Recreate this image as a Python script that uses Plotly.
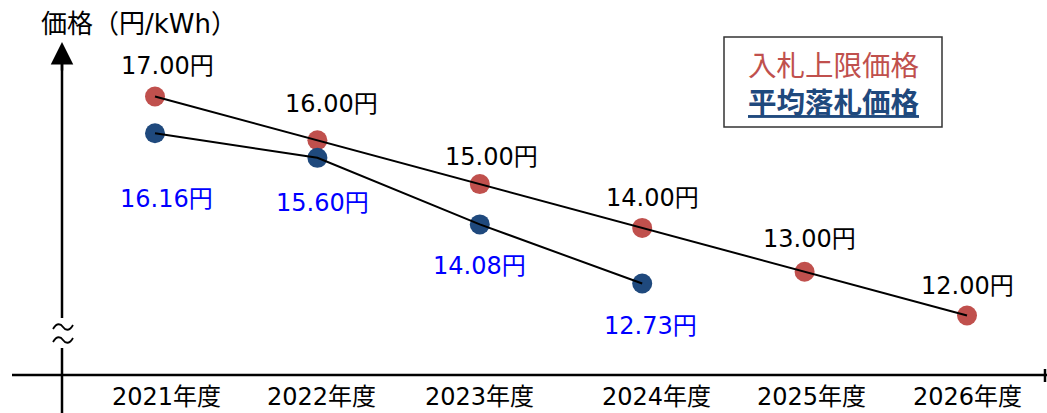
import plotly.graph_objects as go

# Fiscal years and price series (円/kWh)
years = ["2021年度", "2022年度", "2023年度", "2024年度", "2025年度", "2026年度"]
cap_price = [17.00, 16.00, 15.00, 14.00, 13.00, 12.00]       # 入札上限価格
avg_price = [16.16, 15.60, 14.08, 12.73]                     # 平均落札価格
axis_title = "価格（円/kWh）"
legend_cap = "入札上限価格"
legend_avg = "平均落札価格"

W, H = 1047, 413
RED = "#C0504D"
NAVY = "#1F497D"
LABEL_BLUE = "#0000FF"
FONT = "DejaVu Sans, Noto Sans CJK JP, sans-serif"
CJK = "Noto Sans CJK JP, sans-serif"

# label offsets in pixels (x, y) relative to each marker
cap_off = [(12, 31), (14, 36), (12, 27), (10, 30), (5, 33), (0, 30)]
avg_off = [(11, -66), (5, -45), (0, -42), (8, -42)]
# horizontal nudges of the year labels
year_shift = [11, 4, 0, 14, 7, 0]


def fx(p):
    return p / W


def fy(p):
    return 1 - p / H


fig = go.Figure()

# markers first, connecting lines drawn on top of them
fig.add_trace(go.Scatter(x=years, y=cap_price, mode="markers",
                         marker=dict(size=20, color=RED), hoverinfo="skip"))
fig.add_trace(go.Scatter(x=years[:len(avg_price)], y=avg_price, mode="markers",
                         marker=dict(size=20, color=NAVY), hoverinfo="skip"))
fig.add_trace(go.Scatter(x=years, y=cap_price, mode="lines",
                         line=dict(color="black", width=2), hoverinfo="skip"))
fig.add_trace(go.Scatter(x=years[:len(avg_price)], y=avg_price, mode="lines",
                         line=dict(color="black", width=2), hoverinfo="skip"))

annotations = []
for yr, v, (dx, dy) in zip(years, cap_price, cap_off):
    annotations.append(dict(x=yr, y=v, xref="x", yref="y", text=f"{v:.2f}円",
                            showarrow=False, xshift=dx, yshift=dy,
                            xanchor="center", yanchor="middle",
                            font=dict(family=FONT, size=24, color="black")))
for yr, v, (dx, dy) in zip(years, avg_price, avg_off):
    annotations.append(dict(x=yr, y=v, xref="x", yref="y", text=f"{v:.2f}円",
                            showarrow=False, xshift=dx, yshift=dy,
                            xanchor="center", yanchor="middle",
                            font=dict(family=FONT, size=24, color=LABEL_BLUE)))

# category labels under the horizontal axis
for yr, sh in zip(years, year_shift):
    annotations.append(dict(x=yr, y=0, xref="x", yref="paper", text=yr,
                            showarrow=False, xshift=sh,
                            xanchor="center", yanchor="bottom",
                            font=dict(family=FONT, size=24, color="black")))

# axis title
annotations.append(dict(x=fx(39), y=fy(24), xref="paper", yref="paper",
                        xanchor="left", yanchor="middle", text=axis_title,
                        showarrow=False,
                        font=dict(family=FONT, size=26, color="black")))

# legend text, two lines in one box
legend_text = (f"<span style='color:{RED}'>{legend_cap}</span><br>"
               f"<span style='color:{NAVY}'><b><u>{legend_avg}</u></b></span>")
annotations.append(dict(x=fx(834), y=fy(82), xref="paper", yref="paper",
                        xanchor="center", yanchor="middle", align="center",
                        text=legend_text, showarrow=False,
                        font=dict(family=CJK, size=28.5, color=RED)))

# arrow head on the vertical axis
annotations.append(dict(x=fx(62), y=fy(42), ax=0, ay=30,
                        xref="paper", yref="paper", axref="pixel", ayref="pixel",
                        text="", showarrow=True, arrowhead=2, arrowsize=1.8,
                        arrowwidth=2.5, arrowcolor="black"))

shapes = [
    # horizontal axis
    dict(type="line", xref="paper", yref="paper", x0=fx(12), x1=fx(1047),
         y0=fy(375), y1=fy(375), line=dict(color="black", width=2.5)),
    dict(type="line", xref="paper", yref="paper", x0=fx(1045), x1=fx(1045),
         y0=fy(369), y1=fy(382), line=dict(color="black", width=2.5)),
    # vertical axis, broken around the wavy mark
    dict(type="line", xref="paper", yref="paper", x0=fx(62), x1=fx(62),
         y0=fy(55), y1=fy(318), line=dict(color="black", width=2.5)),
    dict(type="line", xref="paper", yref="paper", x0=fx(62), x1=fx(62),
         y0=fy(348), y1=fy(413), line=dict(color="black", width=2.5)),
    # legend frame
    dict(type="rect", xref="paper", yref="paper", x0=fx(724), x1=fx(942),
         y0=fy(127), y1=fy(37), line=dict(color="#333333", width=1.5)),
]

# wavy break mark (two tildes)
for cy in (327, 340):
    path = (f"M {fx(53)} {fy(cy + 2)} "
            f"C {fx(57)} {fy(cy - 5)} {fx(61)} {fy(cy - 3)} {fx(63)} {fy(cy)} "
            f"C {fx(65)} {fy(cy + 3)} {fx(69)} {fy(cy + 5)} {fx(73)} {fy(cy - 2)}")
    shapes.append(dict(type="path", xref="paper", yref="paper", path=path,
                       line=dict(color="black", width=1.8)))

# category i sits at 155 + 162.4*i pixels; price p sits at 206 + 43.8*(14.5 - p)
x0, dx = 155.0, 162.4
y_mid, dy_px = 206.0, 43.8
fig.update_layout(
    width=W, height=H,
    margin=dict(l=0, r=0, t=0, b=0),
    paper_bgcolor="white", plot_bgcolor="white",
    showlegend=False,
    xaxis=dict(range=[-x0 / dx, (W - x0) / dx], visible=False, fixedrange=True),
    yaxis=dict(range=[14.5 - (H - y_mid) / dy_px, 14.5 + y_mid / dy_px],
               visible=False, fixedrange=True),
    annotations=annotations,
    shapes=shapes,
)

fig.write_html("out.html")
